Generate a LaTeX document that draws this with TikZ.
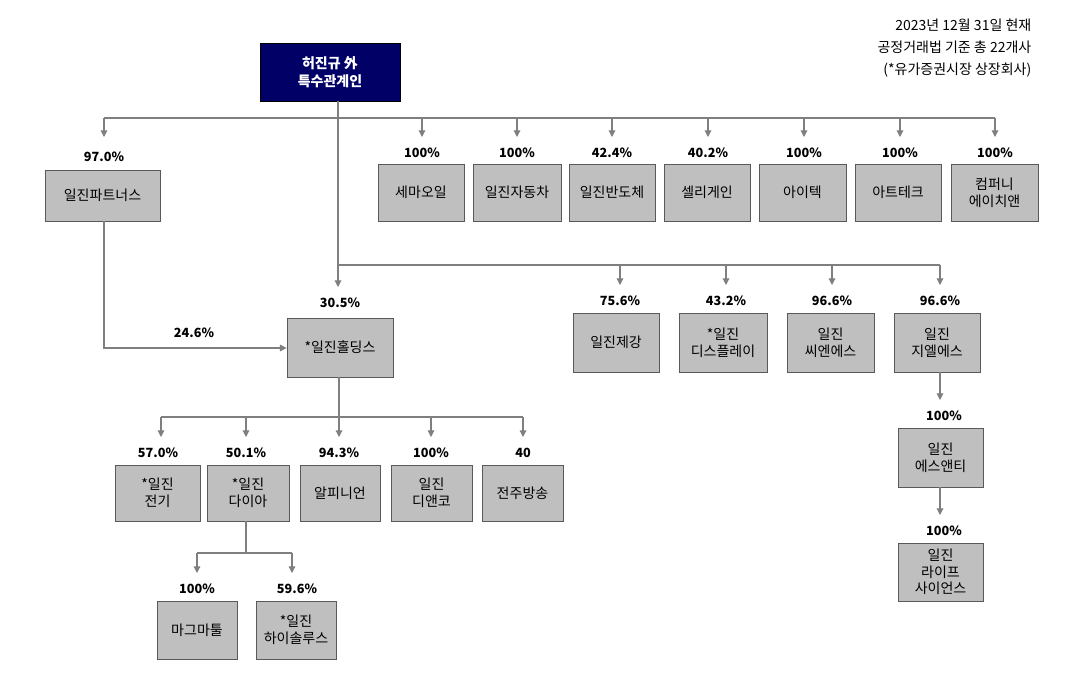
\documentclass[tikz,border=0pt]{standalone}
\usepackage{fontspec}
\setmainfont{Noto Sans CJK KR}
\usetikzlibrary{arrows.meta}
\definecolor{navy}{HTML}{000066}
\definecolor{bxg}{HTML}{BFBFBF}
\definecolor{ln}{HTML}{7F7F7F}
\tikzset{
 box/.style={draw=ln!70!black,fill=bxg,line width=0.6pt,inner sep=0pt,align=center,font=\fontsize{10.5}{12.5}\selectfont},
 pct/.style={font=\fontsize{9.5}{11}\selectfont\bfseries},
 con/.style={draw=ln,line width=0.8pt},
 arr/.style={con,-{Triangle[length=5pt,width=5pt]}}
}
\newcommand\bx[6]{\node[box,minimum width={(#4-#2)*0.75pt},minimum height={(#5-#3)*0.75pt}] (#1) at ({(#2+#4)/2},{(#3+#5)/2}) {#6};}
\begin{document}
\begin{tikzpicture}[x=0.75pt,y=-0.75pt]
\useasboundingbox (0,0) rectangle (1069,694);
\node[box,fill=navy,draw=black,text=white,font=\fontsize{10.5}{13}\selectfont\bfseries,minimum width=105pt,minimum height=43.5pt] (top) at (330,72) {허진규 外\\특수관계인};
\node[align=right,anchor=north east,font=\fontsize{10.5}{16.5}\selectfont] (note) at (1036,14) {2023년 12월 31일 현재\\공정거래법 기준 총 22개사\\(*유가증권시장 상장회사)};
% row1
\bx{a1}{378}{164}{464}{221}{세마오일}
\bx{a2}{473}{164}{561}{221}{일진자동차}
\bx{a3}{569}{164}{655}{221}{일진반도체}
\bx{a4}{664}{164}{750}{221}{셀리게인}
\bx{a5}{759}{164}{846}{221}{아이텍}
\bx{a6}{855}{164}{941}{221}{아트테크}
\bx{a7}{951}{164}{1038}{221}{컴퍼니\\에이치앤}
\bx{p}{45}{170}{160}{221}{일진파트너스}
\bx{h}{287}{318}{393}{377}{*일진홀딩스}
\bx{b1}{573}{313}{659}{372}{일진제강}
\bx{b2}{679}{313}{767}{372}{*일진\\디스플레이}
\bx{b3}{787}{313}{874}{372}{일진\\씨엔에스}
\bx{b4}{894}{313}{980}{372}{일진\\지엘에스}
\bx{c1}{898}{428}{983}{487}{일진\\에스앤티}
\bx{c2}{898}{543}{983}{601}{일진\\라이프\\사이언스}
\bx{d1}{115}{465}{200}{521}{*일진\\전기}
\bx{d2}{207}{465}{289}{521}{*일진\\다이아}
\bx{d3}{300}{465}{380}{521}{알피니언}
\bx{d4}{391}{465}{472}{521}{일진\\디앤코}
\bx{d5}{482}{465}{563}{521}{전주방송}
\bx{e1}{157}{601}{237}{659}{마그마툴}
\bx{e2}{256}{601}{336}{659}{*일진\\하이솔루스}
% connectors
\coordinate (t1) at (338,118);
\draw[con] (top.south -| t1) -- (338,265);
\draw[con] (104,118) -- (995,118);
\foreach \x in {104,422,517,612,708,804,900,995}
  \draw[arr] (\x,118) -- (\x,137);
\draw[arr] (338,265) -- (338,287);
\draw[con] (338,265) -- (940,265);
\foreach \x in {620,726,832,940} \draw[arr] (\x,265) -- (\x,285);
\draw[arr] (104,221 |- p.south) -- (104,348) -- (h.west |- 0,348);
\draw[arr] (940,372 |- b4.south) -- (940,400);
\draw[arr] (940,487 |- c1.south) -- (940,515);
\draw[con] (h.south -| 339,0) -- (339,417);
\draw[con] (161,417) -- (523,417);
\foreach \x in {161,246,339,431,523} \draw[arr] (\x,417) -- (\x,437);
\draw[con] (246,521 |- d2.south) -- (246,553);
\draw[con] (197,553) -- (292,553);
\foreach \x in {197,292} \draw[arr] (\x,553) -- (\x,573);
% percentages
\foreach \x/\y/\t in {104/157/97.0\%,422/153/100\%,517/153/100\%,612/153/42.4\%,708/153/40.2\%,804/153/100\%,900/153/100\%,995/153/100\%,
 340/303/30.5\%,194/333/24.6\%,620/301/75.6\%,726/301/43.2\%,832/301/96.6\%,940/301/96.6\%,944/416/100\%,944/531/100\%,
 158/453/57.0\%,246/453/50.1\%,339/453/94.3\%,431/453/100\%,523/453/40,197/589/100\%,297/589/59.6\%}
  \node[pct] at (\x,\y) {\t};
\end{tikzpicture}
\end{document}
